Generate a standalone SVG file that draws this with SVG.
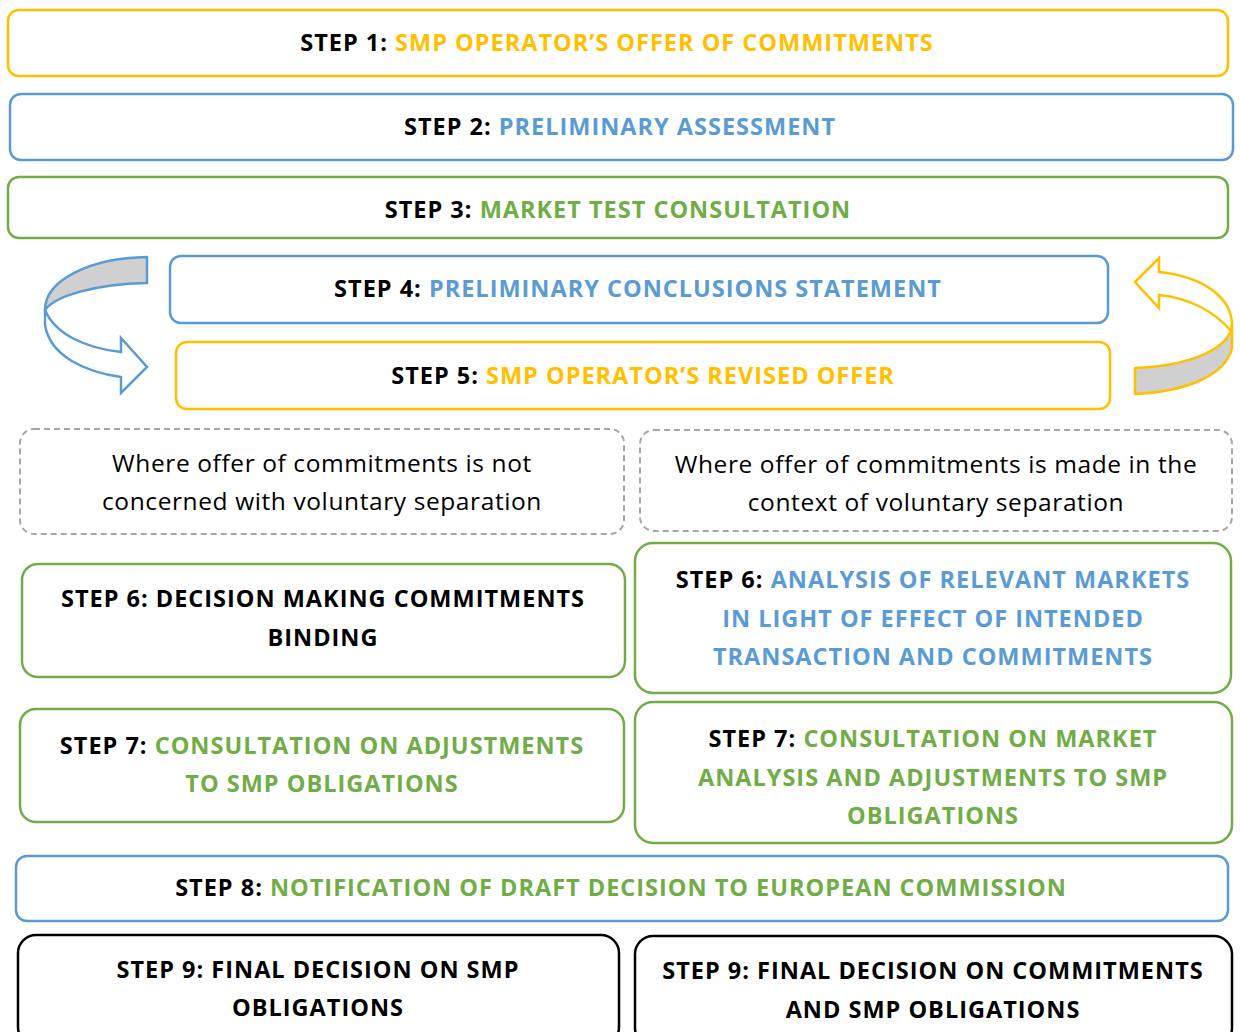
<svg xmlns="http://www.w3.org/2000/svg" width="1240" height="1032" viewBox="0 0 1240 1032">
<style>
.box{fill:#fff;stroke-width:2.5}
.y{stroke:#FFC000}.b{stroke:#5B9BD5}.g{stroke:#70AD47}.k{stroke:#000}
.d{fill:#fff;stroke:#A6A6A6;stroke-width:2;stroke-dasharray:6 4}
text{font-family:"Open Sans","Liberation Sans",Arial,sans-serif;font-size:23.5px;letter-spacing:1px;font-weight:bold;fill:#000;text-anchor:middle}
text.n{font-weight:normal;font-size:24.5px;letter-spacing:0.6px}
.ty{fill:#FFC000}.tb{fill:#5B9BD5}.tg{fill:#70AD47}
</style>
<rect width="1240" height="1032" fill="#fff"/>
<g id="connectors">
<path d="M147,257 C90,258 45,280 45,310 C55,296 95,284 147,283 Z" fill="#D0D0D0" stroke="#5B9BD5" stroke-width="2.5" stroke-linejoin="round"/>
<path d="M45,310 L45,325 C50,356 85,372 121,377 L121,393 L147,367 L121,338 L121,352 C85,348 55,334 45,310 Z" fill="#fff" stroke="#5B9BD5" stroke-width="2.5" stroke-linejoin="miter"/>
<path d="M1135,282 L1159,258 L1159,272 C1200,276 1232,296 1232,325 L1231,331 C1215,312 1190,298 1159,295 L1159,308 Z" fill="#fff" stroke="#FFC000" stroke-width="2.5"/>
<path d="M1135,368 C1185,366 1222,352 1231,331 L1232,325 L1232,348 C1225,378 1180,392 1135,394 Z" fill="#D0D0D0" stroke="#FFC000" stroke-width="2.5" stroke-linejoin="round"/>
</g>
<g id="step1"><rect class="box y" x="8" y="10" width="1220" height="66" rx="11"/>
<text x="617" y="51">STEP 1: <tspan class="ty">SMP OPERATOR’S OFFER OF COMMITMENTS</tspan></text></g>
<g id="step2"><rect class="box b" x="10" y="94" width="1223" height="66" rx="11"/>
<text x="620" y="135">STEP 2: <tspan class="tb">PRELIMINARY ASSESSMENT</tspan></text></g>
<g id="step3"><rect class="box g" x="8" y="177" width="1220" height="61" rx="11"/>
<text x="618" y="218">STEP 3: <tspan class="tg">MARKET TEST CONSULTATION</tspan></text></g>
<g id="step4"><rect class="box b" x="170" y="256" width="938" height="67" rx="11"/>
<text x="638" y="297">STEP 4: <tspan class="tb">PRELIMINARY CONCLUSIONS STATEMENT</tspan></text></g>
<g id="step5"><rect class="box y" x="176" y="342" width="934" height="67" rx="11"/>
<text x="643" y="384">STEP 5: <tspan class="ty">SMP OPERATOR’S REVISED OFFER</tspan></text></g>
<g id="cond-left"><rect class="d" x="20" y="429" width="604" height="105" rx="14"/>
<text class="n" x="322" y="472">Where offer of commitments is not</text>
<text class="n" x="322" y="510">concerned with voluntary separation</text></g>
<g id="cond-right"><rect class="d" x="640" y="430" width="592" height="101" rx="14"/>
<text class="n" x="936" y="473">Where offer of commitments is made in the</text>
<text class="n" x="936" y="511">context of voluntary separation</text></g>
<g id="step6-left"><rect class="box g" x="22" y="564" width="603" height="113" rx="16"/>
<text x="323" y="607">STEP 6: DECISION MAKING COMMITMENTS</text>
<text x="323" y="646">BINDING</text></g>
<g id="step6-right"><rect class="box g" x="635" y="543" width="596" height="150" rx="18"/>
<text x="933" y="588">STEP 6: <tspan class="tb">ANALYSIS OF RELEVANT MARKETS</tspan></text>
<text x="933" y="627" class="tb">IN LIGHT OF EFFECT OF INTENDED</text>
<text x="933" y="665" class="tb">TRANSACTION AND COMMITMENTS</text></g>
<g id="step7-left"><rect class="box g" x="20" y="709" width="604" height="113" rx="16"/>
<text x="322" y="754">STEP 7: <tspan class="tg">CONSULTATION ON ADJUSTMENTS</tspan></text>
<text x="322" y="792" class="tg">TO SMP OBLIGATIONS</text></g>
<g id="step7-right"><rect class="box g" x="635" y="702" width="597" height="141" rx="18"/>
<text x="933" y="747">STEP 7: <tspan class="tg">CONSULTATION ON MARKET</tspan></text>
<text x="933" y="786" class="tg">ANALYSIS AND ADJUSTMENTS TO SMP</text>
<text x="933" y="824" class="tg">OBLIGATIONS</text></g>
<g id="step8"><rect class="box b" x="16" y="856" width="1212" height="65" rx="11"/>
<text x="621" y="896">STEP 8: <tspan class="tg">NOTIFICATION OF DRAFT DECISION TO EUROPEAN COMMISSION</tspan></text></g>
<g id="step9-left"><rect class="box k" x="18" y="935" width="601" height="110" rx="18"/>
<text x="318" y="978">STEP 9: FINAL DECISION ON SMP</text>
<text x="318" y="1016">OBLIGATIONS</text></g>
<g id="step9-right"><rect class="box k" x="635" y="936" width="597" height="110" rx="18"/>
<text x="933" y="979">STEP 9: FINAL DECISION ON COMMITMENTS</text>
<text x="933" y="1018">AND SMP OBLIGATIONS</text></g>
</svg>
